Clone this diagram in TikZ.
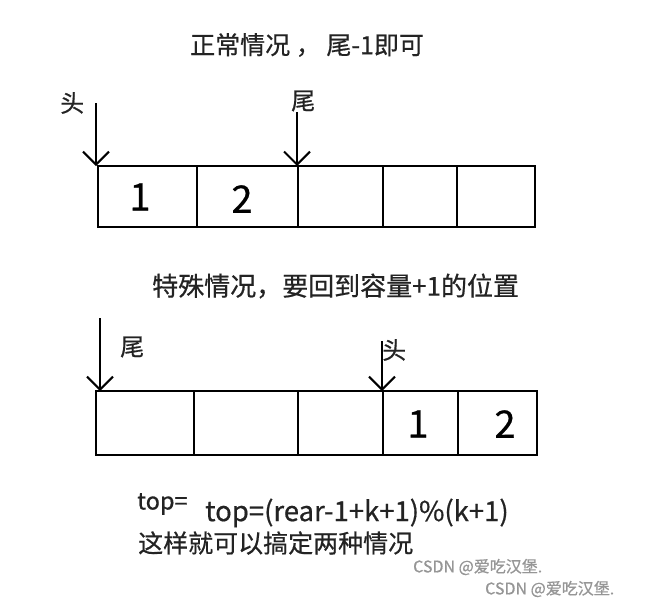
\documentclass[tikz,border=0pt]{standalone}
\usepackage{fontspec}
\setmainfont{Noto Sans CJK SC}[FakeBold=0.6]
\usetikzlibrary{arrows.meta, positioning}
\definecolor{inkgray}{RGB}{35, 35, 35}
\definecolor{markgray}{RGB}{150, 150, 150}
\tikzset{
  cell/.style      = {rectangle, draw=black, line width=2.6pt, outer sep=0pt, inner sep=0pt},
  pen/.style       = {-{Straight Barb[length=13pt, width=26pt, line width=2pt]}, line width=2pt, black},
  note/.style      = {anchor=west, text=inkgray, inner sep=0pt},
  hand/.style      = {font=\fontsize{38}{38}\selectfont, text=black, inner sep=0pt},
  wmark/.style     = {anchor=west, text=markgray, inner sep=0pt, font=\fontsize{16}{16}\selectfont},
}

\begin{document}
\begin{tikzpicture}[x=1pt, y=-1pt]

\fill[white] (0,0) rectangle (670,608);
\useasboundingbox (0,0) rectangle (670,608);

% ==================== 正常情况 ====================
\node[note, font=\fontsize{25}{25}\selectfont] (t1) at (190,45) {正常情况 ， 尾-1即可};

\node[cell, minimum width=99pt,  minimum height=61pt, anchor=north west] (a1) at (98,166) {};
\node[cell, minimum width=101pt, minimum height=61pt, right=0pt of a1] (a2) {};
\node[cell, minimum width=85pt,  minimum height=61pt, right=0pt of a2] (a3) {};
\node[cell, minimum width=74pt,  minimum height=61pt, right=0pt of a3] (a4) {};
\node[cell, minimum width=78pt,  minimum height=61pt, right=0pt of a4] (a5) {};

\node[hand] (a1v) at (140,197) {1};
\node[hand] (a2v) at (242,199) {2};

\coordinate (ahead) at ([xshift=-2pt, yshift=63pt]a1.north west);
\coordinate (atail) at ([xshift=-1pt, yshift=54pt]a3.north west);
\draw[pen] (ahead) -- (ahead |- a1.north);
\draw[pen] (atail) -- (atail |- a3.north);

\node[note, font=\fontsize{24}{24}\selectfont] (ahl) at (60,103) {头};
\node[note, font=\fontsize{24}{24}\selectfont] (atl) at (291,101) {尾};

% ==================== 特殊情况 ====================
\node[note, font=\fontsize{26}{26}\selectfont] (t2) at (152,286) {特殊情况，要回到容量+1的位置};

\node[cell, minimum width=98pt,  minimum height=64pt, anchor=north west] (b1) at (96,391) {};
\node[cell, minimum width=104pt, minimum height=64pt, right=0pt of b1] (b2) {};
\node[cell, minimum width=85pt,  minimum height=64pt, right=0pt of b2] (b3) {};
\node[cell, minimum width=75pt,  minimum height=64pt, right=0pt of b3] (b4) {};
\node[cell, minimum width=79pt,  minimum height=64pt, right=0pt of b4] (b5) {};

\node[hand] (b4v) at (418,424) {1};
\node[hand] (b5v) at (505,424) {2};

\coordinate (btail) at ([xshift=4pt, yshift=73pt]b1.north west);
\coordinate (bhead) at ([xshift=-1pt, yshift=50pt]b4.north west);
\draw[pen] (btail) -- (btail |- b1.north);
\draw[pen] (bhead) -- (bhead |- b4.north);

\node[note, font=\fontsize{24}{24}\selectfont] (btl) at (120,347) {尾};
\node[note, font=\fontsize{24}{24}\selectfont] (bhl) at (382,350) {头};

% ==================== 结论 ====================
\node[note, font=\fontsize{23.5}{23.5}\selectfont] (f0) at (137,504) {top=};
\node[note, font=\fontsize{27.5}{27.5}\selectfont] (f1) at (205,513) {top=(rear-1+k+1)\%(k+1)};
\node[note, font=\fontsize{25}{25}\selectfont] (f2) at (138,543) {这样就可以搞定两种情况};

\node[wmark] (w1) at (413,567) {CSDN @爱吃汉堡.};
\node[wmark] (w2) at (485,589) {CSDN @爱吃汉堡.};

\end{tikzpicture}
\end{document}
